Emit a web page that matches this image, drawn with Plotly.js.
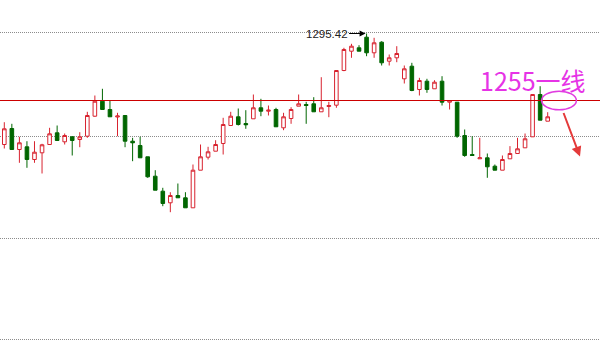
<!DOCTYPE html>
<html>
<head>
<meta charset="utf-8">
<script src="https://cdn.plot.ly/plotly-3.0.1.min.js"></script>
<style>html,body{margin:0;padding:0;background:#fff;}#chart{width:600px;height:354px;}</style>
</head>
<body>
<div id="chart"></div>
<script>
// Candle data (index order)
const openP = [1228.45,1238.1,1225.43,1227.06,1219.4,1223.44,1228.45,1235.51,1230.08,1233.1,
1231.47,1233.46,1245.53,1254.57,1249.57,1245.04,1245.95,1230.44,1227.85,1221.03,
1209.33,1200.28,1193.28,1197.68,1196.29,1190.26,1212.95,1220.79,1224.41,1229.06,
1239.91,1245.16,1241.12,1243.96,1250.6,1248.54,1249.57,1238.53,1244.14,1251.56,
1252.58,1253.01,1248.18,1251.38,1252.16,1273.1,1284.74,1286.79,1293.19,1283.77,
1290.17,1278.71,1280.76,1268.09,1275.69,1261.64,1266.64,1262.06,1266.64,1253.97,
1253.97,1233.88,1222.42,1219.82,1220.43,1215.36,1212.95,1219.82,1223.02,1226.46,
1233.1,1258.62,1242.51];
const highP = [1241.9,1240.94,1233.1,1230.44,1230.44,1228.87,1238.53,1239.91,1235.09,1233.46,
1235.87,1248.18,1258.01,1262.06,1255.18,1247.58,1246.2,1232.49,1233.1,1221.03,
1212.95,1202.33,1199.67,1204.92,1199.67,1216.38,1228.45,1227.06,1231.04,1244.56,
1248.18,1250.17,1249.15,1258.62,1256.02,1251.98,1250.6,1247.58,1250.95,1258.62,
1254.21,1256.99,1269.05,1254.21,1273.1,1286.79,1289.2,1288.36,1295.42,1292.82,
1290.77,1282.75,1287.76,1276.11,1277.74,1268.69,1268.09,1267.24,1269.66,1255.3,
1253.97,1237.5,1233.46,1232.49,1223.02,1216.38,1221.82,1227.46,1232.49,1235.09,
1258.62,1263.62,1247.94];
const lowP = [1226.04,1225.43,1217.41,1214.39,1217.41,1210.96,1228.45,1230.86,1228.45,1221.82,
1226.82,1232.49,1245.16,1249.57,1245.16,1233.46,1226.82,1218.38,1220.43,1208.36,
1200.88,1191.23,1187.61,1196.29,1190.26,1190.26,1212.95,1219.4,1224.41,1222.42,
1239.91,1239.91,1237.92,1243.96,1245.53,1245.95,1239.13,1237.08,1240.94,1251.56,
1240.94,1248.18,1248.18,1244.92,1250.6,1272.67,1280.76,1284.74,1281.72,1280.76,
1276.11,1276.11,1278.1,1265.25,1260.61,1258.01,1259.64,1262.06,1251.98,1249.57,
1232.49,1221.03,1221.82,1219.82,1208.36,1212.95,1212.95,1219.82,1223.02,1226.46,
1233.1,1243.11,1242.51];
const closeP = [1237.92,1225.43,1229.48,1219.4,1223.81,1228.27,1234.91,1230.86,1233.88,1230.86,
1233.1,1245.95,1254.57,1249.57,1245.16,1245.65,1230.44,1229.48,1220.43,1208.96,
1200.88,1192.86,1197.68,1196.29,1190.26,1212.95,1221.03,1224.05,1228.45,1240.52,
1245.53,1240.52,1240.34,1250.6,1248.54,1249.15,1239.13,1245.16,1249.57,1253.01,
1251.98,1248.18,1250.6,1251.98,1273.1,1285.77,1287.76,1284.74,1283.77,1289.81,
1277.74,1280.76,1283.35,1274.12,1261.03,1267.06,1261.64,1266.04,1253.97,1255.0,
1233.46,1221.82,1221.82,1220.43,1215.0,1212.95,1219.4,1223.02,1225.86,1231.89,
1258.62,1243.11,1245.16];
const idx = openP.map((_, i) => i);

const gridLevels = [1296.2, 1233.46, 1171.56, 1110.8];
const keyLevel = 1255;
const peakIndex = 48;
const peakValue = 1295.42;
const peakLabel = '1295.42';
const levelLabel = '1255一线';

const trace = {
  type: 'candlestick',
  x: idx, open: openP, high: highP, low: lowP, close: closeP,
  increasing: {line: {color: '#d8232f', width: 1}, fillcolor: '#ffffff'},
  decreasing: {line: {color: '#006600', width: 1}, fillcolor: '#006600'},
  whiskerwidth: 0,
  hoverinfo: 'skip',
  showlegend: false
};

const layout = {
  width: 600, height: 354,
  margin: {l: 0, r: 0, t: 0, b: 0},
  paper_bgcolor: '#ffffff', plot_bgcolor: '#ffffff',
  showlegend: false,
  boxgap: 0.32,
  xaxis: {range: [-0.57, 78.93], showgrid: false, zeroline: false, showticklabels: false,
          ticks: '', showline: false, rangeslider: {visible: false}, fixedrange: true},
  yaxis: {range: [1102.06, 1315.63], tickvals: gridLevels, showticklabels: false, ticks: '',
          showgrid: true, gridcolor: '#8c8c8c', griddash: '1px,1px', gridwidth: 1,
          zeroline: false, showline: false, fixedrange: true},
  shapes: [
    {type: 'line', xref: 'paper', x0: 0, x1: 1, yref: 'y', y0: keyLevel, y1: keyLevel,
     line: {color: '#cc0000', width: 1}},
    {type: 'circle', xref: 'x', yref: 'y', x0: 71.2, x1: 75.8, y0: keyLevel - 5.6, y1: keyLevel + 5.6,
     line: {color: '#e03ce0', width: 1.5}}
  ],
  annotations: [
    {x: peakIndex, y: peakValue, xref: 'x', yref: 'y', text: peakLabel,
     showarrow: true, ax: -40, ay: 0, arrowhead: 2, arrowsize: 1, arrowwidth: 1.2,
     arrowcolor: '#000', standoff: 1,
     font: {family: 'Arial, Liberation Sans, sans-serif', size: 11.5, color: '#222'}},
    {x: 70.05, y: 1267.67, xref: 'x', yref: 'y', text: levelLabel, showarrow: false,
     font: {family: 'Noto Sans CJK SC, sans-serif', size: 25, color: '#e633e6'}},
    {x: 76.28, y: 1221.2, xref: 'x', yref: 'y', text: '', showarrow: true,
     ax: -17, ay: -45, arrowhead: 2, arrowsize: 1, arrowwidth: 2, arrowcolor: '#e43a3a'}
  ]
};

Plotly.newPlot('chart', [trace], layout, {displayModeBar: false, staticPlot: true});
</script>
</body>
</html>
